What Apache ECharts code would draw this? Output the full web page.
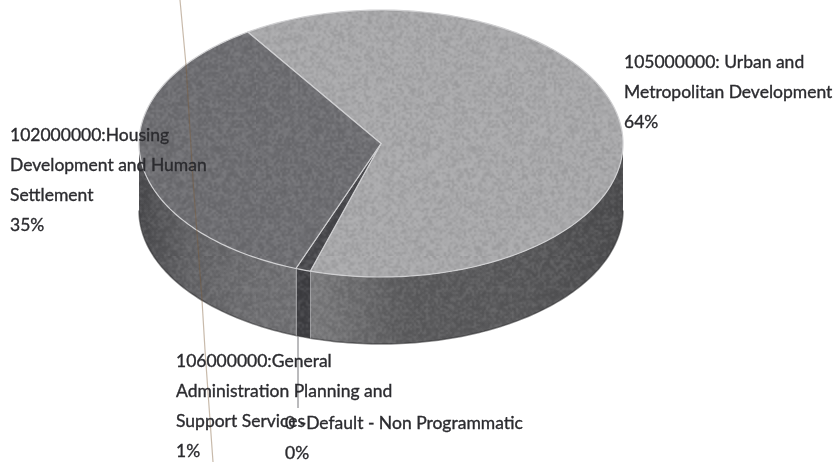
<!DOCTYPE html>
<html>
<head>
<meta charset="utf-8">
<style>html,body{margin:0;padding:0;background:#fff}#pie{width:839px;height:462px}</style>
<script src="https://cdn.jsdelivr.net/npm/echarts@6/dist/echarts.min.js"></script>
</head>
<body>
<div id="pie"></div>
<script>
// clockwise from the top slice edge
var names = ['105000000: Urban and\nMetropolitan Development', '106000000:General\nAdministration Planning and\nSupport Services', '0 -Default - Non Programmatic', '102000000:Housing\nDevelopment and Human\nSettlement'];
var values = [64, 1, 0, 35];
var topColors = ['#a9a9ab', '#47474b', '#47474b', '#6e6e72'];
var wallColors = [
    ['#7c7c7e', '#5c5c5e', '#58585a', '#4c4c4e'],
    ['#3e3e42', '#3e3e42', '#3e3e42', '#3e3e42'],
    ['#3e3e42', '#3e3e42', '#3e3e42', '#3e3e42'],
    ['#4a4a4d', '#626265', '#6e6e71', '#727275']
];

var startAngle = -33.4, depth = 67;
var total = values.reduce(function(a, b){return a + b;}, 0);

var rows = [], acc = 0;
values.forEach(function(v, i){
    rows.push([acc, acc + v, i]);
    acc += v;
});

// scanned paper grain, laid over the flat fills
function makeGrain(){
    var small = document.createElement('canvas');
    small.width = small.height = 128;
    var ctx = small.getContext('2d'), img = ctx.createImageData(128, 128), s = 12345;
    for (var i = 0; i < img.data.length; i += 4) {
        s = (s * 1103515245 + 12345) & 0x7fffffff;
        var v = (s >> 16) & 255;
        img.data[i] = img.data[i + 1] = img.data[i + 2] = v > 127 ? 255 : 0;
        img.data[i + 3] = Math.abs(v - 127) * 0.2;
    }
    ctx.putImageData(img, 0, 0);
    var big = document.createElement('canvas');
    big.width = big.height = 256;
    var bctx = big.getContext('2d');
    bctx.imageSmoothingEnabled = true;
    bctx.drawImage(small, 0, 0, 256, 256);
    return big;
}
var grain = {image: makeGrain(), repeat: 'repeat'};

function toAngle(share){
    return (startAngle + share / total * 360) * Math.PI / 180;
}
function arc(a, b, api, dy){
    var pts = [], n = Math.max(2, Math.ceil(Math.abs(b - a) / 0.02));
    for (var i = 0; i <= n; i++) {
        var t = a + (b - a) * i / n;
        var p = api.coord([Math.sin(t), Math.cos(t)]);
        pts.push([p[0], p[1] + dy]);
    }
    return pts;
}

function renderWall(params, api){
    var idx = api.value(2);
    var a = toAngle(api.value(0)), b = toAngle(api.value(1));
    // only the front half of the rim can be seen
    var a2 = Math.max(a, Math.PI / 2), b2 = Math.min(b, Math.PI * 1.5);
    var children = [];
    if (b2 > a2) {
        var pts = arc(a2, b2, api, 0).concat(arc(b2, a2, api, depth));
        var stops = wallColors[idx];
        var fill = new echarts.graphic.LinearGradient(0, 0, 1, 0, [
            {offset: 0, color: stops[0]},
            {offset: 0.3, color: stops[1]},
            {offset: 0.7, color: stops[2]},
            {offset: 1, color: stops[3]}
        ]);
        children.push({type: 'polygon', shape: {points: pts}, style: {fill: fill}});
        children.push({type: 'polygon', shape: {points: pts}, style: {fill: grain}});
        children.push({type: 'polyline', shape: {points: arc(a2, b2, api, depth)}, style: {stroke: 'rgba(45,45,48,0.55)', lineWidth: 1.5, fill: null}});
    }
    if (b > Math.PI / 2 && b < Math.PI * 1.5) {
        var e = arc(b, b, api, 0)[0];
        children.push({type: 'line', shape: {x1: e[0], y1: e[1], x2: e[0], y2: e[1] + depth}, style: {stroke: '#c4c4c6', lineWidth: 1.2}});
    }
    return {type: 'group', children: children};
}

function renderTop(params, api){
    var idx = api.value(2);
    var a = toAngle(api.value(0)), b = toAngle(api.value(1));
    if (b <= a) return {type: 'group', children: []};
    var pts = [api.coord([0, 0])].concat(arc(a, b, api, 0));
    return {
        type: 'group',
        children: [
            {type: 'polygon', shape: {points: pts}, style: {fill: topColors[idx]}},
            {type: 'polygon', shape: {points: pts}, style: {fill: grain}},
            {type: 'polygon', shape: {points: pts}, style: {fill: null, stroke: '#d0d0d2', lineWidth: 1.2, lineJoin: 'round'}}
        ]
    };
}

function labelText(i){
    return names[i] + '\n' + values[i] + '%';
}
function label(i, x, y){
    return {
        type: 'text', x: x, y: y, z: 20,
        style: {
            text: labelText(i), fill: '#2b2b2f', font: '17.5px Lato', lineHeight: 30,
            stroke: '#2b2b2f', lineWidth: 0.35
        }
    };
}

var pie = echarts.init(document.getElementById('pie'), null, {renderer: 'canvas'});
pie.setOption({
    animation: false,
    backgroundColor: '#fff',
    grid: {left: 139, width: 484, top: 10, height: 267},
    xAxis: {type: 'value', min: -1, max: 1, show: false},
    yAxis: {type: 'value', min: -1, max: 1, show: false},
    series: [
        {type: 'custom', data: rows, clip: false, z: 2, renderItem: renderWall},
        {type: 'custom', data: rows, clip: false, z: 3, renderItem: renderTop}
    ],
    graphic: [
        {type: 'polyline', z: 10, shape: {points: [[180, 0], [186, 65], [193, 180], [202, 300], [205, 350], [213, 462]]}, style: {stroke: 'rgba(125,90,55,0.42)', lineWidth: 1.2, fill: null}},
        {type: 'line', z: 10, shape: {x1: 298, y1: 336, x2: 298, y2: 408}, style: {stroke: '#77777b', lineWidth: 1}},
        label(0, 624, 47),
        label(3, 10, 120),
        label(1, 176, 346),
        label(2, 285, 408)
    ]
});
</script>
</body>
</html>
